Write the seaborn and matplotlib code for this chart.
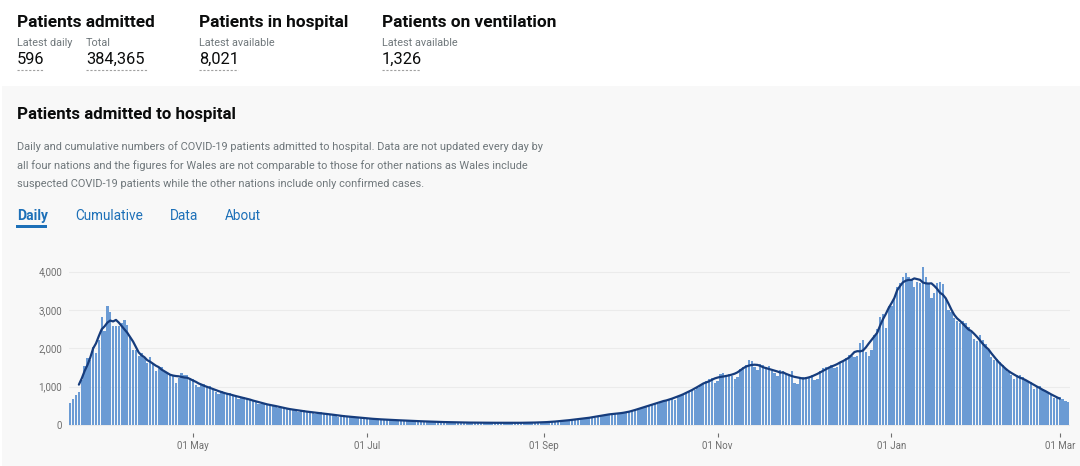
import numpy as np
import pandas as pd
import seaborn as sns
import matplotlib.pyplot as plt
from matplotlib.lines import Line2D
from matplotlib.patches import Rectangle

# daily admissions (first bar 19 Mar 2020, last 04 Mar 2021)
first_day = "2020-03-19"
last_day = "2021-03-04"

mar_2020 = [580, 690, 780, 850, 1170, 1540, 1760, 1700, 2040, 1890, 2220, 2830, 2460]
apr_2020 = [3100, 2940, 2570, 2580, 2590, 2670, 2740, 2610, 2300, 1960,
            1960, 1800, 1870, 1740, 1610, 1780, 1610, 1420, 1520, 1500,
            1390, 1350, 1330, 1300, 1090, 1220, 1350, 1300, 1300, 1220]
may_2020 = [1190, 1050, 990, 1080, 1060, 1000, 1010, 950, 870, 800,
            880, 860, 820, 830, 790, 720, 680, 730, 720, 700,
            690, 660, 600, 540, 560, 580, 560, 550, 500, 480, 440]
jun_2020 = [460, 470, 440, 420, 400, 370, 340, 390, 380, 360,
            350, 330, 290, 280, 330, 320, 300, 290, 260, 230,
            220, 260, 250, 230, 220, 200, 180, 170, 200, 190]
jul_2020 = [180, 170, 160, 140, 130, 160, 150, 145, 140, 130,
            115, 105, 130, 125, 120, 115, 110, 95, 90, 105,
            100, 95, 90, 85, 75, 70, 85, 80, 78, 75, 72]
aug_2020 = [62, 58, 70, 68, 66, 65, 62, 55, 52, 64,
            62, 60, 60, 58, 52, 50, 62, 60, 58, 58,
            56, 50, 48, 60, 60, 62, 64, 62, 58, 56, 70]
sep_2020 = [72, 78, 82, 85, 80, 85, 105, 115, 125, 130,
            135, 130, 140, 165, 175, 185, 195, 200, 195, 205,
            250, 265, 275, 285, 295, 280, 290, 310, 315, 320]
oct_2020 = [350, 370, 380, 390, 450, 470, 490, 510, 530, 540,
            560, 610, 630, 650, 680, 700, 650, 720, 780, 820,
            850, 880, 920, 900, 960, 1050, 1100, 1150, 1200, 1220, 1100]
nov_2020 = [1150, 1330, 1350, 1310, 1320, 1290, 1200, 1260, 1470, 1520,
            1560, 1700, 1660, 1500, 1440, 1590, 1560, 1520, 1530, 1400,
            1350, 1290, 1440, 1400, 1360, 1330, 1420, 1100, 1080, 1250]
dec_2020 = [1250, 1260, 1240, 1300, 1180, 1210, 1420, 1480, 1500, 1520,
            1560, 1480, 1500, 1650, 1680, 1740, 1820, 1800, 1780, 1800,
            2150, 2230, 1900, 1790, 1950, 2340, 2510, 2820, 2900, 2540, 3100]
jan_2021 = [3100, 3300, 3600, 3700, 3850, 3970, 3850, 3780, 3600, 3740,
            3700, 4130, 3850, 3710, 3300, 3440, 3700, 3740, 3670, 3300,
            3000, 2950, 2800, 2700, 2650, 2720, 2650, 2560, 2430, 2250, 2180]
feb_2021 = [2360, 2210, 2100, 1950, 1780, 1690, 1730, 1650, 1560, 1470,
            1380, 1300, 1200, 1300, 1310, 1250, 1170, 1120, 1110, 950,
            1000, 1010, 950, 880, 850, 790, 700, 700]
mar_2021 = [720, 680, 620, 596]

admissions = (mar_2020 + apr_2020 + may_2020 + jun_2020 + jul_2020 + aug_2020
              + sep_2020 + oct_2020 + nov_2020 + dec_2020 + jan_2021
              + feb_2021 + mar_2021)

tick_dates = ["2020-05-01", "2020-07-01", "2020-09-01", "2020-11-01", "2021-01-01", "2021-03-01"]
tick_labels = ["01 May", "01 Jul", "01 Sep", "01 Nov", "01 Jan", "01 Mar"]
y_ticks = [0, 1000, 2000, 3000, 4000]

dates = pd.date_range(first_day, last_day, freq="D")
df = pd.DataFrame({"date": dates, "admissions": admissions})
df["idx"] = np.arange(len(df))
df["avg"] = df["admissions"].rolling(7, center=True).mean()

W, H = 1080, 466
sns.set_theme(style="white")
plt.rcParams["font.family"] = ["Roboto", "DejaVu Sans"]

fig = plt.figure(figsize=(W / 100, H / 100), dpi=100)
fig.patch.set_facecolor("white")


def px(x, y):
    return x / W, 1 - y / H


def txt(x, y, s, **kw):
    fig.text(*px(x, y), s, va="baseline", ha="left", **kw)


dark = "#0b0c0c"
grey = "#6f777b"
blue = "#1d70b8"

# headline figures
txt(17, 27, "Patients admitted", fontsize=12.4, fontweight="bold", color=dark)
txt(199, 27, "Patients in hospital", fontsize=12.4, fontweight="bold", color=dark)
txt(382, 27, "Patients on ventilation", fontsize=12.4, fontweight="bold", color=dark)
txt(17, 46, "Latest daily", fontsize=7.8, color=grey)
txt(86, 46, "Total", fontsize=7.8, color=grey)
txt(199, 46, "Latest available", fontsize=7.8, color=grey)
txt(382, 46, "Latest available", fontsize=7.8, color=grey)
for x0, x1, s in [(17, 44, "596"), (86, 148, "384,365"), (199, 238, "8,021"), (382, 420, "1,326")]:
    txt(x0, 64, s, fontsize=11.8, color=dark)
    fig.add_artist(Line2D([x0 / W, x1 / W], [1 - 70 / H] * 2, transform=fig.transFigure,
                          color="#a0a0a0", linewidth=0.8, linestyle=(0, (2, 1.5))))

# grey panel
fig.add_artist(Rectangle((2 / W, 0), 1 - 2 / W, 1 - 86 / H, transform=fig.transFigure,
                         facecolor="#f8f8f8", edgecolor="none", zorder=-1))
txt(17, 119, "Patients admitted to hospital", fontsize=12.2, fontweight="bold", color=dark)
desc = ["Daily and cumulative numbers of COVID-19 patients admitted to hospital. Data are not updated every day by",
        "all four nations and the figures for Wales are not comparable to those for other nations as Wales include",
        "suspected COVID-19 patients while the other nations include only confirmed cases."]
for i, line in enumerate(desc):
    txt(17, 150 + i * 18.7, line, fontsize=7.9, color=grey)

txt(17, 220, "Daily", fontsize=10, fontweight="bold", color=blue)
txt(75, 220, "Cumulative", fontsize=9.8, color=blue)
txt(170, 220, "Data", fontsize=9.8, color=blue)
txt(225, 220, "About", fontsize=9.8, color=blue)
fig.add_artist(Rectangle((16 / W, 1 - 228 / H), 31 / W, 3 / H, transform=fig.transFigure,
                         facecolor=blue, edgecolor="none"))

# chart
ax = fig.add_axes([68.9 / W, (H - 433) / H, 1000.8 / W, 169 / H])
ax.patch.set_alpha(0)
sns.barplot(data=df, x="idx", y="admissions", color="#6b9bd4", saturation=1,
            width=0.8, errorbar=None, linewidth=0, ax=ax, zorder=2)
sns.lineplot(data=df, x="idx", y="avg", color="#163c7c", linewidth=1.6, ax=ax, zorder=3)

pos = [(pd.Timestamp(d) - dates[0]).days for d in tick_dates]
ax.set_xticks(pos)
ax.set_xticklabels(tick_labels)
ax.set_yticks(y_ticks)
ax.set_yticklabels([f"{v:,}" for v in y_ticks])
ax.set_xlim(-0.5, len(df) - 0.5)
ax.set_ylim(-209, 4200)
ax.set_xlabel("")
ax.set_ylabel("")
ax.yaxis.grid(True, color="#ebebeb", linewidth=0.8)
ax.set_axisbelow(True)
for s in ax.spines.values():
    s.set_visible(False)
ax.tick_params(axis="y", length=0, pad=5, labelsize=7, labelcolor="#6f6f6f")
ax.tick_params(axis="x", length=3, width=0.8, color="#6f6f6f", pad=3,
               labelsize=7, labelcolor="#6f6f6f", bottom=True)

fig.savefig("out.png", dpi=100)
